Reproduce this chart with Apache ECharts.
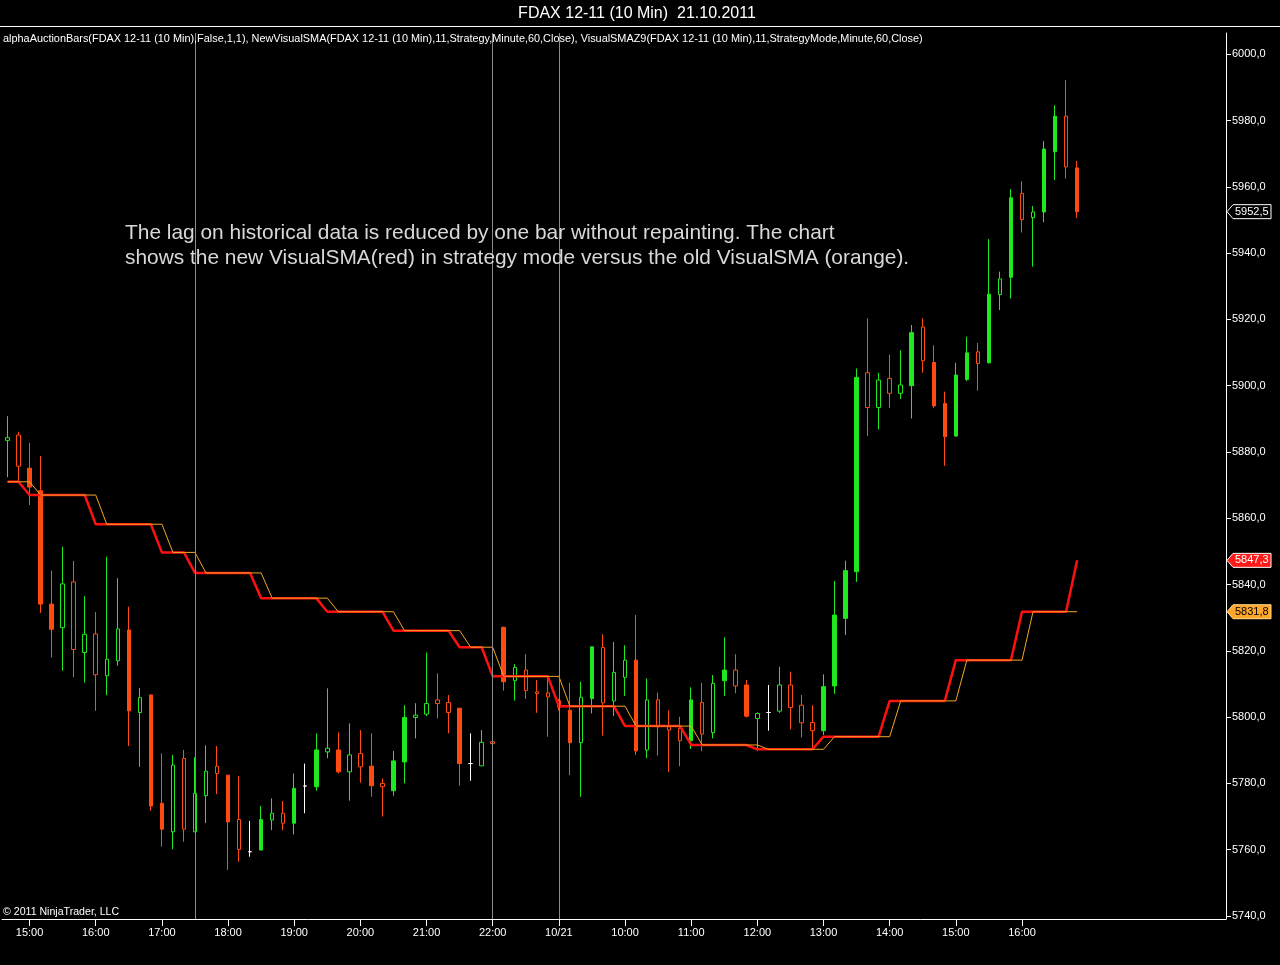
<!DOCTYPE html>
<html><head><meta charset="utf-8">
<script src="https://cdn.jsdelivr.net/npm/echarts@6/dist/echarts.min.js"></script>
<style>html,body{margin:0;padding:0;background:#000;overflow:hidden}#c{width:1280px;height:965px}</style>
</head><body><div id="c"></div><script>
// ---- data ----
const categories = ['14:40','14:50','15:00','15:10','15:20','15:30','15:40','15:50','16:00','16:10','16:20','16:30','16:40','16:50','17:00','17:10','17:20','17:30','17:40','17:50','18:00','18:10','18:20','18:30','18:40','18:50','19:00','19:10','19:20','19:30','19:40','19:50','20:00','20:10','20:20','20:30','20:40','20:50','21:00','21:10','21:20','21:30','21:40','21:50','22:00',
'08:10','08:20','08:30','08:40','08:50','09:00','09:10','09:20','09:30','09:40','09:50','10:00','10:10','10:20','10:30','10:40','10:50','11:00','11:10','11:20','11:30','11:40','11:50','12:00','12:10','12:20','12:30','12:40','12:50','13:00','13:10','13:20','13:30','13:40','13:50','14:00','14:10','14:20','14:30','14:40','14:50','15:00','15:10','15:20','15:30','15:40','15:50','16:00','16:10','16:20','16:30','16:40','16:50'];
const opens  = [5883.5,5885.1,5875.1,5868.3,5834.1,5827.0,5840.8,5819.5,5825.1,5812.5,5817.0,5826.3,5801.4,5806.7,5774.0,5765.4,5787.5,5765.4,5776.3,5785.2,5782.5,5769.1,5759.4,5759.9,5769.0,5771.0,5768.0,5779.2,5779.0,5789.5,5790.1,5783.5,5789.0,5785.2,5780.0,5777.8,5786.5,5799.9,5800.9,5805.2,5804.4,5802.7,5786.0,5785.3,5792.6,
5827.1,5811.0,5814.2,5807.6,5807.3,5805.0,5802.1,5792.3,5805.6,5821.0,5804.9,5812.0,5817.2,5790.1,5805.2,5797.1,5796.6,5792.9,5804.4,5795.3,5811.0,5814.2,5809.7,5799.6,5801.4,5801.8,5809.7,5803.6,5798.4,5795.9,5809.4,5829.8,5843.9,5903.9,5893.4,5902.2,5897.7,5900.0,5917.7,5907.0,5894.6,5884.8,5901.9,5910.2,5906.9,5927.5,5932.7,5958.0,5950.7,5952.4,5970.6,5981.3,5965.7];
const closes = [5884.3,5875.7,5869.4,5834.1,5826.5,5840.2,5820.4,5825.0,5812.8,5817.5,5826.6,5801.9,5805.9,5773.2,5766.2,5785.5,5766.2,5777.0,5783.7,5783.0,5768.4,5760.1,5759.4,5769.1,5771.0,5768.0,5778.5,5779.2,5790.1,5790.6,5783.5,5788.6,5785.0,5779.3,5779.0,5786.8,5799.9,5800.6,5804.1,5804.1,5801.4,5786.0,5786.0,5792.4,5792.0,
5810.7,5815.0,5808.0,5807.1,5806.1,5803.0,5792.3,5806.0,5821.2,5804.3,5813.5,5817.2,5789.8,5805.2,5797.1,5796.1,5792.9,5805.2,5794.9,5810.2,5814.2,5809.4,5800.3,5801.1,5801.4,5809.7,5802.9,5798.3,5795.9,5809.2,5830.8,5844.2,5902.5,5893.4,5901.7,5897.7,5900.2,5916.0,5907.5,5893.9,5884.6,5903.2,5909.9,5906.7,5927.6,5932.2,5956.7,5950.1,5952.4,5971.4,5981.3,5966.0,5952.5];
const lows   = [5872.4,5871.0,5864.0,5831.4,5818.0,5814.0,5812.0,5810.4,5801.9,5806.6,5815.5,5791.3,5785.0,5771.8,5760.9,5760.1,5762.4,5765.4,5768.0,5776.8,5753.9,5756.4,5757.9,5759.9,5765.9,5765.9,5764.6,5771.0,5777.8,5787.6,5783.0,5774.8,5780.2,5776.0,5770.0,5776.3,5780.0,5793.6,5800.3,5799.6,5795.1,5779.3,5780.8,5785.3,5783.5,
5808.0,5805.0,5805.5,5801.3,5794.1,5802.0,5782.5,5776.0,5801.1,5794.4,5800.3,5806.4,5788.6,5787.6,5788.4,5783.5,5785.2,5790.4,5789.8,5793.6,5806.4,5807.2,5799.9,5789.8,5795.9,5801.3,5796.3,5793.9,5790.6,5794.6,5807.0,5824.8,5840.8,5884.8,5886.8,5893.3,5896.0,5890.1,5903.9,5893.2,5875.8,5884.6,5901.4,5898.5,5906.7,5922.8,5926.3,5946.2,5935.9,5949.3,5962.0,5962.5,5950.6];
const highs  = [5890.8,5886.1,5882.8,5878.8,5844.2,5851.4,5847.1,5836.5,5831.7,5848.4,5841.9,5833.3,5808.8,5806.8,5789.1,5788.6,5790.1,5787.9,5791.5,5791.3,5782.5,5782.2,5768.7,5773.2,5775.5,5774.7,5783.0,5786.0,5795.1,5808.7,5795.4,5798.1,5796.1,5795.1,5781.5,5789.8,5803.6,5804.2,5819.5,5813.2,5806.7,5802.7,5795.1,5796.1,5795.6,
5827.3,5816.0,5819.0,5811.2,5811.8,5805.5,5810.4,5810.7,5821.2,5825.0,5822.7,5821.7,5830.8,5811.7,5807.4,5802.1,5800.1,5809.0,5810.4,5812.7,5824.1,5819.0,5811.2,5801.4,5809.7,5815.2,5813.7,5806.7,5803.6,5812.9,5841.1,5847.2,5905.2,5920.3,5903.9,5909.4,5910.7,5918.3,5920.3,5912.2,5898.2,5906.9,5914.8,5912.9,5944.2,5934.4,5959.3,5961.7,5954.2,5973.8,5984.6,5992.2,5967.8];
const newVisualSMA = [5871.0,5871.0,
5867.0,5867.0,5867.0,5867.0,5867.0,5867.0,
5858.2,5858.2,5858.2,5858.2,5858.2,5858.2,
5849.7,5849.7,5849.7,
5843.5,5843.5,5843.5,5843.5,5843.5,5843.5,
5835.9,5835.9,5835.9,5835.9,5835.9,5835.9,
5831.8,5831.8,5831.8,5831.8,5831.8,5831.8,
5826.1,5826.1,5826.1,5826.1,5826.1,5826.1,
5821.1,5821.1,5821.1,
5812.3,5812.3,5812.3,5812.3,5812.3,5812.3,
5803.3,5803.3,5803.3,5803.3,5803.3,5803.3,
5797.3,5797.3,5797.3,5797.3,5797.3,5797.3,
5791.6,5791.6,5791.6,5791.6,5791.6,5791.6,
5790.3,5790.3,5790.3,5790.3,5790.3,5790.3,
5794.1,5794.1,5794.1,5794.1,5794.1,5794.1,
5804.9,5804.9,5804.9,5804.9,5804.9,5804.9,
5817.2,5817.2,5817.2,5817.2,5817.2,5817.2,
5831.8,5831.8,5831.8,5831.8,5831.8,
5847.3];
const oldVisualSMA = [5871.0,5871.0,5871.0,
5867.0,5867.0,5867.0,5867.0,5867.0,5867.0,
5858.2,5858.2,5858.2,5858.2,5858.2,5858.2,
5849.7,5849.7,5849.7,
5843.5,5843.5,5843.5,5843.5,5843.5,5843.5,
5835.9,5835.9,5835.9,5835.9,5835.9,5835.9,
5831.8,5831.8,5831.8,5831.8,5831.8,5831.8,
5826.1,5826.1,5826.1,5826.1,5826.1,5826.1,
5821.1,5821.1,5821.1,
5812.3,5812.3,5812.3,5812.3,5812.3,5812.3,
5803.3,5803.3,5803.3,5803.3,5803.3,5803.3,
5797.3,5797.3,5797.3,5797.3,5797.3,5797.3,
5791.6,5791.6,5791.6,5791.6,5791.6,5791.6,
5790.3,5790.3,5790.3,5790.3,5790.3,5790.3,
5794.1,5794.1,5794.1,5794.1,5794.1,5794.1,
5804.9,5804.9,5804.9,5804.9,5804.9,5804.9,
5817.2,5817.2,5817.2,5817.2,5817.2,5817.2,
5831.8,5831.8,5831.8,5831.8,5831.8];
const sessionBreaks = [17, 44, 50];
const titleText = 'FDAX 12-11 (10 Min)  21.10.2011';
const indicatorText = 'alphaAuctionBars(FDAX 12-11 (10 Min),False,1,1), NewVisualSMA(FDAX 12-11 (10 Min),11,Strategy,Minute,60,Close), VisualSMAZ9(FDAX 12-11 (10 Min),11,StrategyMode,Minute,60,Close)';
const noteLines = ['The lag on historical data is reduced by one bar without repainting. The chart',
                   'shows the new VisualSMA(red) in strategy mode versus the old VisualSMA (orange).'];
const copyrightText = '\u00a9 2011 NinjaTrader, LLC';

// ---- build ----
const FONT = '"Liberation Sans", Arial, sans-serif';
const UP = '#1fe81f', DOWN = '#ff4a12';
const fmt = v => v.toFixed(1).replace('.', ',');
const xData = categories.concat(new Array(13).fill(''));

const candleData = opens.map((o, i) => {
  const c = closes[i];
  const item = { value: [o, c, lows[i], highs[i]] };
  if (o === c) {
    item.itemStyle = { color: '#fff', color0: '#fff', borderColor: '#fff', borderColor0: '#fff', borderColorDoji: '#fff' };
  } else {
    const filled = i > 0 && (c > highs[i - 1] || c < lows[i - 1]);
    if (!filled) item.itemStyle = { color: '#000', color0: '#000' };
  }
  return item;
});

const showLabel = (idx, val) => typeof val === 'string' && val.slice(-3) === ':00';

const chart = echarts.init(document.getElementById('c'), null, { renderer: 'canvas' });
const option = {
  backgroundColor: '#000',
  animation: false,
  grid: { left: 2, right: 54, top: 33, bottom: 46, containLabel: false },
  xAxis: {
    type: 'category', data: xData, boundaryGap: true,
    axisLine: { show: true, lineStyle: { color: '#fff', width: 1 } },
    axisTick: { show: true, interval: showLabel, alignWithLabel: true, length: 7, lineStyle: { color: '#fff' } },
    axisLabel: { interval: showLabel, color: '#fff', fontSize: 11, fontFamily: FONT, margin: 8,
      formatter: v => v === '09:00' ? '10/21' : v },
    splitLine: { show: false }
  },
  yAxis: {
    type: 'value', position: 'right', scale: true,
    min: 5739.1, max: 6006.4, splitNumber: 13, minInterval: 20, maxInterval: 20,
    axisLine: { show: true, lineStyle: { color: '#fff', width: 1 } },
    axisTick: { show: true, length: 5, lineStyle: { color: '#fff' } },
    axisLabel: { color: '#fff', fontSize: 11, fontFamily: FONT, margin: 6, formatter: fmt,
      showMinLabel: false, showMaxLabel: false },
    splitLine: { show: false }
  },
  series: [
    { type: 'candlestick', data: candleData, barWidth: 4,
      itemStyle: { color: UP, color0: DOWN, borderColor: UP, borderColor0: DOWN, borderWidth: 1 },
      markLine: { silent: true, symbol: ['none', 'none'], label: { show: false },
        lineStyle: { color: '#8a8a8a', width: 1, type: 'solid' },
        data: sessionBreaks.map(i => ({ xAxis: i })) },
      z: 2 },
    { type: 'line', name: 'NewVisualSMA', data: newVisualSMA, symbol: 'none', showSymbol: false,
      lineStyle: { color: '#ff1010', width: 2.5 }, z: 3 },
    { type: 'line', name: 'VisualSMA', data: oldVisualSMA, symbol: 'none', showSymbol: false,
      lineStyle: { color: '#f5a623', width: 1 }, z: 4 }
  ]
};
chart.setOption(option);

function tag(value, fill, stroke, textColor) {
  const y = chart.convertToPixel({ yAxisIndex: 0 }, value);
  const x0 = 1227;
  return {
    type: 'group', children: [
      { type: 'polygon', shape: { points: [[x0, y], [x0 + 6, y - 7], [x0 + 44, y - 7], [x0 + 44, y + 7], [x0 + 6, y + 7]] },
        style: { fill: fill, stroke: stroke, lineWidth: 1 }, z: 10 },
      { type: 'text', x: x0 + 8, y: y, style: { text: fmt(value), fill: textColor, fontSize: 11, fontFamily: FONT,
        textVerticalAlign: 'middle', verticalAlign: 'middle' }, z: 11 }
    ]
  };
}

const graphics = [
  { type: 'line', shape: { x1: 0, y1: 26.5, x2: 1280, y2: 26.5 }, style: { stroke: '#fff', lineWidth: 1 }, z: 5 },
  { type: 'text', x: 637, y: 14, style: { text: titleText, fill: '#fff', fontSize: 16, fontFamily: FONT,
      textAlign: 'center', align: 'center', textVerticalAlign: 'middle', verticalAlign: 'middle' }, z: 5 },
  { type: 'text', x: 3, y: 39, style: { text: indicatorText, fill: '#fff', fontSize: 10.9, fontFamily: FONT,
      textVerticalAlign: 'middle', verticalAlign: 'middle' }, z: 5 },
  { type: 'text', x: 125, y: 233, style: { text: noteLines[0], fill: '#d8d8d8', fontSize: 20.9, fontFamily: FONT,
      textVerticalAlign: 'middle', verticalAlign: 'middle' }, z: 5 },
  { type: 'text', x: 125, y: 258, style: { text: noteLines[1], fill: '#d8d8d8', fontSize: 20.9, fontFamily: FONT,
      textVerticalAlign: 'middle', verticalAlign: 'middle' }, z: 5 },
  { type: 'text', x: 3, y: 912, style: { text: copyrightText, fill: '#fff', fontSize: 10.6, fontFamily: FONT,
      textVerticalAlign: 'middle', verticalAlign: 'middle' }, z: 5 },
  tag(closes[closes.length - 1], '#000', '#fff', '#fff'),
  tag(newVisualSMA[newVisualSMA.length - 1], '#ff1a1a', '#ffffff', '#fff'),
  tag(oldVisualSMA[oldVisualSMA.length - 1], '#ffa62b', '#ffdd88', '#000')
];
chart.setOption({ graphic: graphics });
</script></body></html>
